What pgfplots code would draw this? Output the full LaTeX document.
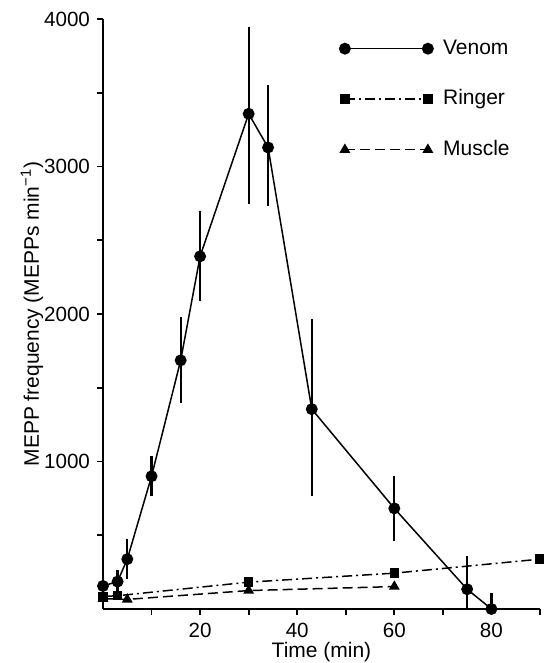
\documentclass[border=0pt]{standalone}
\usepackage{pgfplots}
\pgfplotsset{compat=1.18}
\usepackage{pgfplotstable}
\usepackage{fontspec}
\setmainfont{Liberation Sans}

\pgfplotstableread{
x   y     ep   em
0   156   0    0
3   186   80   80
5   338   137  135
10  900   136  131
16  1686  297  290
20  2391  304  300
30  3357  591  609
34  3129  425  396
43  1355  610  586
60  682   223  222
75  134   222  134
80  0     111  0
}\venom

\pgfplotstableread{
x   y
0   85
3   90
30  182
60  243
90  338
}\ringer

\pgfplotstableread{
x   y
0   70
5   65
30  125
60  152
}\muscle

\begin{document}
\begin{tikzpicture}[x=1pt,y=1pt]
\path[use as bounding box] (-51.5,-27) rectangle (220.5,304.5);
\begin{axis}[
  at={(0,0)}, anchor=origin,
  scale only axis, width=218.5pt, height=295pt,
  xmin=0, xmax=90, ymin=0, ymax=4000,
  axis lines=left, axis line style={-, line width=1.1pt},
  clip=false,
  xtick={10,20,...,90}, xticklabels={,20,,40,,60,,80,},
  ytick={500,1000,...,4000}, yticklabels={,1000,,2000,,3000,,4000},
  tick align=outside, major tick length=3pt,
  tick style={line width=0.9pt, black},
  ticklabel style={font=\fontsize{10.3}{12}\selectfont},
  xticklabel style={yshift=-0.5pt},
  xlabel={Time (min)},
  ylabel={MEPP frequency (MEPPs min\textsuperscript{−1})},
  label style={font=\fontsize{10.5}{12}\selectfont},
  xlabel style={at={(axis description cs:0.5,-0.0729)}, anchor=center},
  ylabel style={at={(axis description cs:-0.1625,0.5)}, anchor=center},
  legend style={draw=none, fill=none, at={(axis description cs:0.527,0.98)}, anchor=north west,
    font=\fontsize{10.5}{12}\selectfont, row sep=11.75pt, column sep=3pt,
    nodes={inner sep=2pt, text height=7.5pt, text depth=2pt}},
  legend cell align=left,
  legend image code/.code={\draw[mark repeat=1,#1] plot coordinates {(0pt,0pt) (41.5pt,0pt)};},
]
\addplot[black, line width=0.75pt, mark=*, mark size=2.6pt, mark options={solid},
  error bars/.cd, y dir=both, y explicit, error mark=none,
  error bar style={line width=1.1pt, solid}]
  table[x=x, y=y, y error plus=ep, y error minus=em] {\venom};
\addlegendentry{Venom}
\addplot[black, line width=0.75pt, dash pattern=on 5pt off 2pt on 1pt off 2pt,
  mark=square*, mark size=2pt, mark options={solid}]
  table[x=x, y=y] {\ringer};
\addlegendentry{Ringer}
\addplot[black, line width=0.75pt, dash pattern=on 5pt off 2.5pt,
  mark=triangle*, mark size=2.4pt, mark options={solid}]
  table[x=x, y=y] {\muscle};
\addlegendentry{Muscle}
\end{axis}
\end{tikzpicture}
\end{document}
